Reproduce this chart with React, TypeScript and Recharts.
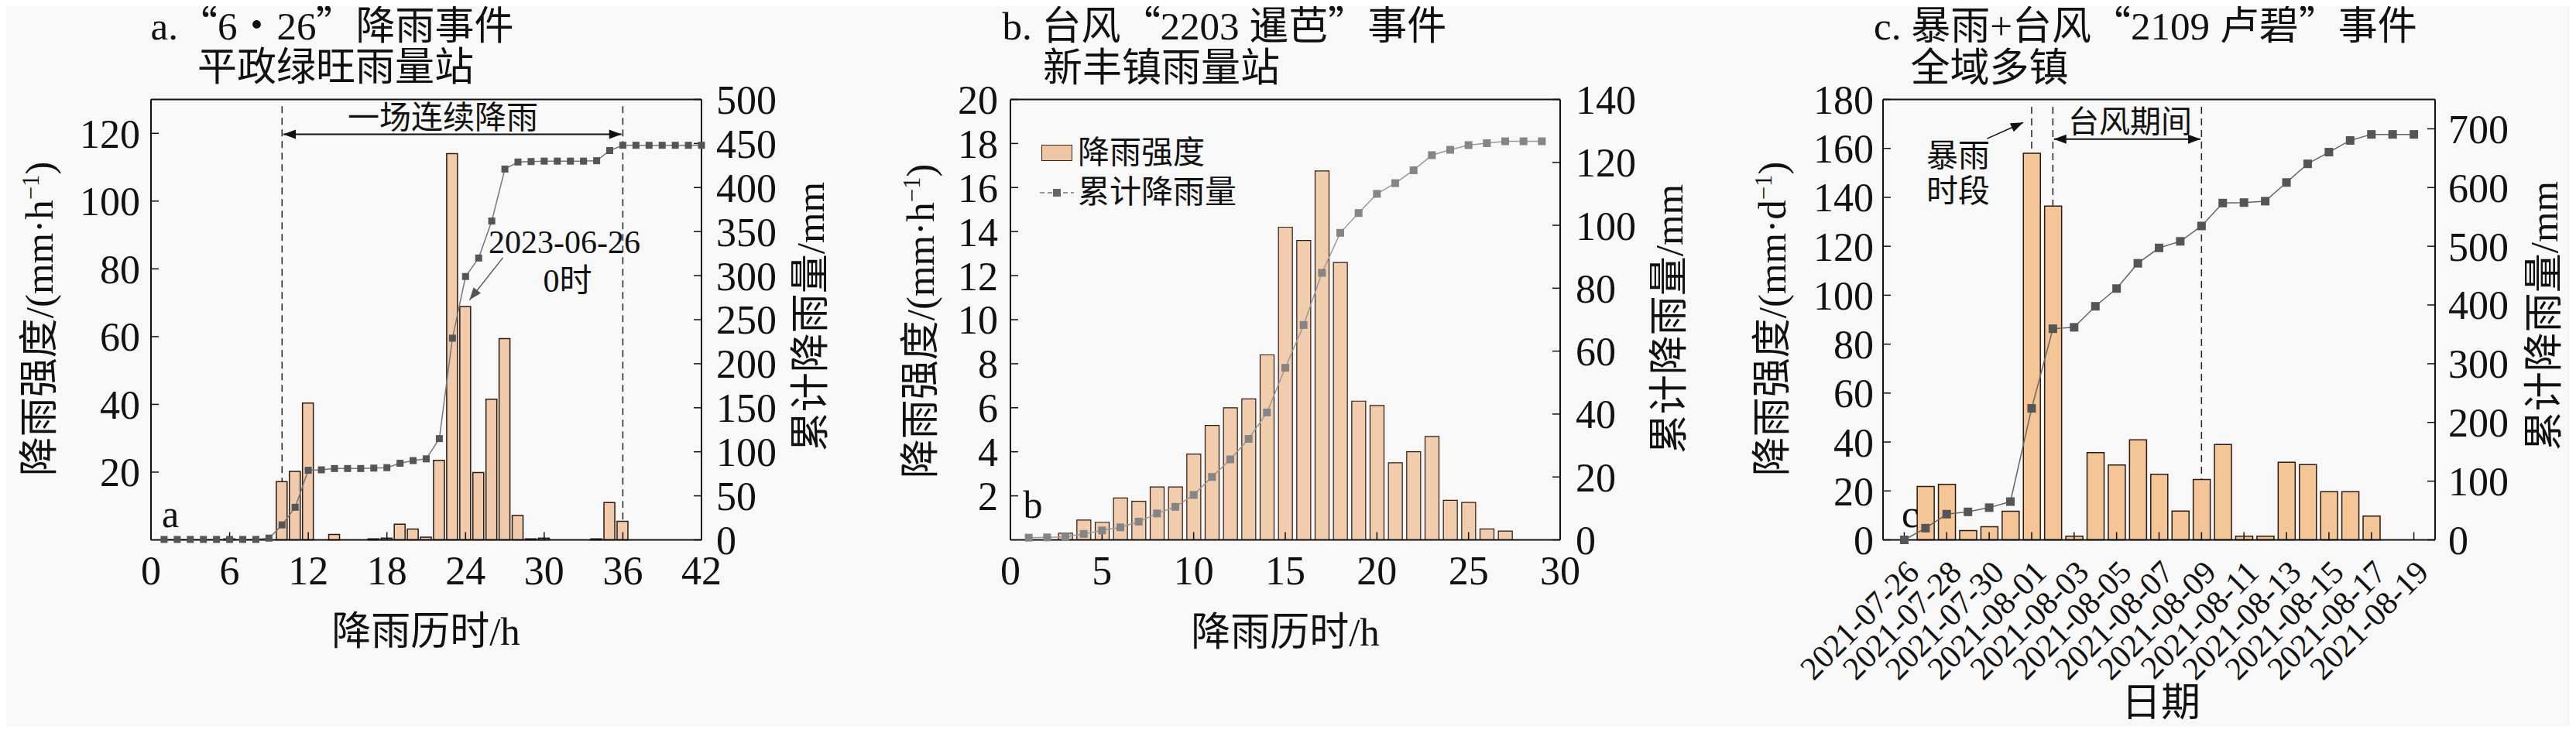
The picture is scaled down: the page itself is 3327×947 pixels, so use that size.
import React from 'react';
import { ComposedChart, Bar, Line, XAxis, YAxis, ReferenceLine } from 'recharts';

// full-width CJK quotes inside serif titles, taken from the local CJK font
const fontCss = `@font-face { font-family: 'CjkPunct'; src: local('Noto Sans CJK SC'), local('Noto Sans CJK SC Regular'), local('NotoSansCJKsc-Regular'); unicode-range: U+201C-201D, U+30FB; }`;
const SERIF = "'CjkPunct', 'Liberation Serif', 'Noto Sans CJK SC', serif";

// a. "6·26" 降雨事件 — hourly, 平政绿旺雨量站
const hoursA = [1, 2, 3, 4, 5, 6, 7, 8, 9, 10, 11, 12, 13, 14, 15, 16, 17, 18, 19, 20, 21, 22, 23, 24, 25, 26, 27, 28, 29, 30, 31, 32, 33, 34, 35, 36, 37, 38, 39, 40, 41, 42];
const rainA = [0, 0, 0, 0, 0, 0.3, 0, 0, 0, 17.2, 20.2, 40.4, 0, 1.6, 0, 0, 0.3, 0.5, 4.6, 3.2, 0.8, 23.5, 114, 68.9, 19.9, 41.5, 59.4, 7.2, 0.3, 0.5, 0, 0, 0, 0.3, 11, 5.5, 0, 0, 0, 0, 0, 0];
const cumA = [0.5, 0.5, 0.5, 0.5, 0.5, 0.5, 0.5, 0.5, 2, 17, 37, 79, 79.5, 81, 81, 81, 81.5, 82, 87, 90, 92, 115, 229, 299, 320, 362, 421, 429, 429.5, 430, 430, 430, 430, 430.5, 442, 448, 448, 448, 448, 448, 448, 448];
const xTicksA = [0, 6, 12, 18, 24, 30, 36, 42];
const leftTicksA = [20, 40, 60, 80, 100, 120];
const rightTicksA = [0, 50, 100, 150, 200, 250, 300, 350, 400, 450, 500];

// b. 台风"2203 暹芭" — hourly, 新丰镇雨量站
const hoursB = [1, 2, 3, 4, 5, 6, 7, 8, 9, 10, 11, 12, 13, 14, 15, 16, 17, 18, 19, 20, 21, 22, 23, 24, 25, 26, 27, 28, 29];
const rainB = [0, 0, 0.3, 0.9, 0.8, 1.9, 1.75, 2.4, 2.4, 3.9, 5.2, 6.0, 6.4, 8.4, 14.2, 13.6, 16.75, 12.6, 6.3, 6.1, 3.5, 4.0, 4.7, 1.8, 1.7, 0.5, 0.4, 0, 0];
const cumB = [0.7, 0.8, 1.0, 1.9, 3.0, 4.0, 5.8, 8.4, 10.5, 14.3, 20.0, 25.6, 32.1, 40.5, 54.7, 68.3, 84.9, 97.6, 103.9, 110.0, 113.4, 117.5, 122.3, 124.0, 125.5, 126.1, 126.7, 126.7, 126.7];
const xTicksB = [0, 5, 10, 15, 20, 25, 30];
const leftTicksB = [2, 4, 6, 8, 10, 12, 14, 16, 18, 20];
const rightTicksB = [0, 20, 40, 60, 80, 100, 120, 140];

// c. 暴雨+台风"2109 卢碧" — daily, 全域多镇
const datesC = [
  '2021-07-26', '2021-07-27', '2021-07-28', '2021-07-29', '2021-07-30', '2021-07-31',
  '2021-08-01', '2021-08-02', '2021-08-03', '2021-08-04', '2021-08-05', '2021-08-06',
  '2021-08-07', '2021-08-08', '2021-08-09', '2021-08-10', '2021-08-11', '2021-08-12',
  '2021-08-13', '2021-08-14', '2021-08-15', '2021-08-16', '2021-08-17', '2021-08-18', '2021-08-19',
];
const rainC = [0, 21.8, 22.7, 3.8, 5.4, 11.7, 158, 136.4, 1.5, 35.7, 30.6, 40.9, 26.8, 11.8, 24.7, 39, 1.5, 1.5, 31.7, 30.8, 19.7, 19.7, 9.7, 0, 0];
const cumC = [0, 20, 43.8, 47.7, 54.9, 65.2, 224, 359.6, 362, 397.8, 428, 471, 497.2, 508.4, 534.6, 573.6, 574.4, 576.8, 608.6, 640.4, 660.3, 680.2, 690.5, 690.5, 690.5];
const xTicksC = [0, 2, 4, 6, 8, 10, 12, 14, 16, 18, 20, 22, 24];
const leftTicksC = [0, 20, 40, 60, 80, 100, 120, 140, 160, 180];
const rightTicksC = [0, 100, 200, 300, 400, 500, 600, 700];

const dataA = hoursA.map((h, i) => ({ h, rain: rainA[i], cum: cumA[i] }));
const dataB = hoursB.map((h, i) => ({ h, rain: rainB[i], cum: cumB[i] }));
const dataC = datesC.map((d, i) => ({ i, date: d, rain: rainC[i], cum: cumC[i] }));

const tickFont = { fontFamily: SERIF, fontSize: 52, fill: '#111' };
const axisLine = { stroke: '#111', strokeWidth: 2 };
const tickLine = { stroke: '#111', strokeWidth: 1.5 };
const dash = { stroke: '#222', strokeWidth: 1.5, strokeDasharray: '9 6' };

const squareDot = (size: number, fill: string) => (p: any) => {
  const { cx, cy, index } = p;
  if (cx == null || cy == null) return <g key={index} />;
  return <rect key={index} x={cx - size / 2} y={cy - size / 2} width={size} height={size} fill={fill} />;
};

const arrowLine = (both: boolean, color = '#111', width = 2) => (p: any) => {
  const { x1, y1, x2, y2 } = p;
  const a = Math.atan2(y2 - y1, x2 - x1);
  const head = (x: number, y: number, ang: number) => {
    const L = 16;
    const W = 6;
    const bx = x - L * Math.cos(ang);
    const by = y - L * Math.sin(ang);
    const nx = -Math.sin(ang) * W;
    const ny = Math.cos(ang) * W;
    return `${x},${y} ${bx + nx},${by + ny} ${bx - nx},${by - ny}`;
  };
  return (
    <g>
      <line x1={x1} y1={y1} x2={x2} y2={y2} stroke={color} strokeWidth={width} />
      <polygon points={head(x2, y2, a)} fill={color} />
      {both && <polygon points={head(x1, y1, a + Math.PI)} fill={color} />}
    </g>
  );
};

const DateTick = (p: any) => {
  const { x, y, payload } = p;
  const ax = x + 11;
  const ay = y + 34;
  return (
    <text x={ax} y={ay} dy="0.35em" textAnchor="end" transform={`rotate(-45 ${ax} ${ay})`}
      fontFamily={SERIF} fontSize={42} fill="#111">
      {datesC[payload.value]}
    </text>
  );
};

type TxtProps = { x: number; y: number; size?: number; left?: boolean; rot?: number; children: React.ReactNode };
const Txt = ({ x, y, size = 51, left = false, rot = 0, children }: TxtProps) => (
  <div style={{
    position: 'absolute', left: x, top: y, fontFamily: SERIF, fontSize: size, lineHeight: 1.2,
    whiteSpace: 'nowrap', color: '#111',
    transform: `translate(${left ? '0' : '-50%'}, -50%) rotate(${rot}deg)`,
  }}>{children}</div>
);
const sup = <sup style={{ fontSize: '0.6em', lineHeight: 0 }}>−1</sup>;

const ChartA = () => (
  <div style={{ position: 'absolute', left: 14.5, top: 0 }}>
    <ComposedChart width={1071} height={947} data={dataA} margin={{ top: 128.5, right: 0, bottom: 0, left: 0 }}>
      <XAxis dataKey="h" type="number" domain={[0, 42]} ticks={xTicksA} interval={0} height={249.5}
        tickSize={-10} tickMargin={31} tick={tickFont} axisLine={axisLine} tickLine={tickLine} />
      <YAxis yAxisId="l" domain={[0, 130]} ticks={leftTicksA} interval={0} width={180}
        tickSize={-10} tickMargin={24} tick={tickFont} axisLine={axisLine} tickLine={tickLine} />
      <YAxis yAxisId="r" orientation="right" domain={[0, 500]} ticks={rightTicksA} interval={0} width={180}
        tickSize={-10} tickMargin={29} tick={tickFont} axisLine={axisLine} tickLine={tickLine} />
      <ReferenceLine yAxisId="l" y={130} stroke="#111" strokeWidth={2} />
      <ReferenceLine yAxisId="l" segment={[{ x: 10, y: 128 }, { x: 10, y: rainA[9] }]} {...dash} />
      <ReferenceLine yAxisId="l" segment={[{ x: 36, y: 128 }, { x: 36, y: rainA[35] }]} {...dash} />
      <ReferenceLine yAxisId="l" segment={[{ x: 10.1, y: 119.7 }, { x: 35.9, y: 119.7 }]} shape={arrowLine(true)} />
      <ReferenceLine yAxisId="l" segment={[{ x: 26.85, y: 83.3 }, { x: 24.3, y: 70.8 }]} shape={arrowLine(false, '#555', 1.5)} />
      <Line yAxisId="r" type="linear" dataKey="cum" stroke="#777" strokeWidth={1.5}
        dot={squareDot(9, '#555')} activeDot={false} isAnimationActive={false} />
      <Bar yAxisId="l" dataKey="rain" barSize={14} fill="#efc5a3" fillOpacity={0.9}
        stroke="#2b1a10" strokeWidth={1.5} isAnimationActive={false} />
    </ComposedChart>
  </div>
);

const ChartB = () => (
  <div style={{ position: 'absolute', left: 1125.4, top: 0 }}>
    <ComposedChart width={1070} height={947} data={dataB} margin={{ top: 128.5, right: 0, bottom: 0, left: 0 }}>
      <XAxis dataKey="h" type="number" domain={[0, 30]} ticks={xTicksB} interval={0} height={249.5}
        tickSize={-10} tickMargin={31} tick={tickFont} axisLine={axisLine} tickLine={tickLine} />
      <YAxis yAxisId="l" domain={[0, 20]} ticks={leftTicksB} interval={0} width={180}
        tickSize={-10} tickMargin={26} tick={tickFont} axisLine={axisLine} tickLine={tickLine} />
      <YAxis yAxisId="r" orientation="right" domain={[0, 140]} ticks={rightTicksB} interval={0} width={180}
        tickSize={-10} tickMargin={30} tick={tickFont} axisLine={axisLine} tickLine={tickLine} />
      <ReferenceLine yAxisId="l" y={20} stroke="#111" strokeWidth={2} />
      <Line yAxisId="r" type="linear" dataKey="cum" stroke="#999" strokeWidth={1.5}
        dot={squareDot(10, '#858585')} activeDot={false} isAnimationActive={false} />
      <Bar yAxisId="l" dataKey="rain" barSize={18} fill="#efc6a4" fillOpacity={0.9}
        stroke="#2b1a10" strokeWidth={1.2} isAnimationActive={false} />
    </ComposedChart>
  </div>
);

const ChartC = () => (
  <div style={{ position: 'absolute', left: 2251.5, top: 0 }}>
    <ComposedChart width={1073} height={947} data={dataC} margin={{ top: 128.5, right: 0, bottom: 0, left: 0 }}>
      <XAxis dataKey="i" type="number" domain={[-1, 25]} ticks={xTicksC} interval={0} height={249.5}
        tickSize={-10} tickMargin={10} tick={<DateTick />} axisLine={axisLine} tickLine={tickLine} />
      <YAxis yAxisId="l" domain={[0, 180]} ticks={leftTicksC} interval={0} width={180}
        tickSize={-10} tickMargin={22} tick={tickFont} axisLine={axisLine} tickLine={tickLine} />
      <YAxis yAxisId="r" orientation="right" domain={[0, 750]} ticks={rightTicksC} interval={0} width={180}
        tickSize={-10} tickMargin={27} tick={tickFont} axisLine={axisLine} tickLine={tickLine} />
      <ReferenceLine yAxisId="l" y={180} stroke="#111" strokeWidth={2} />
      <ReferenceLine yAxisId="l" segment={[{ x: 6, y: 177 }, { x: 6, y: rainC[6] }]} {...dash} />
      <ReferenceLine yAxisId="l" segment={[{ x: 7, y: 177 }, { x: 7, y: rainC[7] }]} {...dash} />
      <ReferenceLine yAxisId="l" segment={[{ x: 14, y: 177 }, { x: 14, y: rainC[14] }]} {...dash} />
      <ReferenceLine yAxisId="l" segment={[{ x: 7.05, y: 163.8 }, { x: 13.95, y: 163.8 }]} shape={arrowLine(true)} />
      <ReferenceLine yAxisId="l" segment={[{ x: 3.9, y: 164 }, { x: 5.6, y: 170.6 }]} shape={arrowLine(false, '#111', 1.5)} />
      <Line yAxisId="r" type="linear" dataKey="cum" stroke="#666" strokeWidth={1.5}
        dot={squareDot(11, '#555')} activeDot={false} isAnimationActive={false} />
      <Bar yAxisId="l" dataKey="rain" barSize={22} fill="#f3c08e" fillOpacity={0.92}
        stroke="#2b1a10" strokeWidth={1.5} isAnimationActive={false} />
    </ComposedChart>
  </div>
);

export default function App() {
  return (
    <div style={{ position: 'relative', width: 3327, height: 947, margin: -8, background: '#f8f8f8', overflow: 'hidden' }}>
      <style>{fontCss}</style>
      <ChartA />
      <ChartB />
      <ChartC />

      {/* titles */}
      <Txt x={194.5} y={35} left>a.“6・26”降雨事件</Txt>
      <Txt x={255} y={88} left>平政绿旺雨量站</Txt>
      <Txt x={1294.5} y={35} left>b. 台风“2203 暹芭”事件</Txt>
      <Txt x={1347} y={89} left>新丰镇雨量站</Txt>
      <Txt x={2420} y={35} left>c. 暴雨+台风“2109 卢碧”事件</Txt>
      <Txt x={2467.5} y={89} left>全域多镇</Txt>

      {/* axis titles */}
      <Txt x={52} y={412} rot={-90}>降雨强度/(mm·h{sup})</Txt>
      <Txt x={1048} y={409} rot={-90}>累计降雨量/mm</Txt>
      <Txt x={550} y={817}>降雨历时/h</Txt>
      <Txt x={1190} y={415} rot={-90}>降雨强度/(mm·h{sup})</Txt>
      <Txt x={2157} y={412} rot={-90}>累计降雨量/mm</Txt>
      <Txt x={1660} y={818}>降雨历时/h</Txt>
      <Txt x={2290} y={412} rot={-90}>降雨强度/(mm·d{sup})</Txt>
      <Txt x={3287} y={408} rot={-90}>累计降雨量/mm</Txt>
      <Txt x={2791} y={909}>日期</Txt>

      {/* panel letters */}
      <Txt x={220} y={664} size={50}>a</Txt>
      <Txt x={1334} y={652} size={50}>b</Txt>
      <Txt x={2467} y={664} size={50}>c</Txt>

      {/* annotations */}
      <Txt x={572} y={153} size={41}>一场连续降雨</Txt>
      <Txt x={729} y={313} size={42}>2023-06-26</Txt>
      <Txt x={733} y={363} size={42}>0时</Txt>
      <Txt x={2751} y={158} size={40}>台风期间</Txt>
      <Txt x={2529} y={202} size={41}>暴雨</Txt>
      <Txt x={2529} y={248} size={41}>时段</Txt>

      {/* legend of panel b */}
      <div style={{ position: 'absolute', left: 1345, top: 187, width: 40, height: 21, background: '#efc6a4', border: '1.5px solid #3a2a1a', boxSizing: 'border-box' }} />
      <Txt x={1392} y={198} size={41} left>降雨强度</Txt>
      <svg style={{ position: 'absolute', left: 1343, top: 239 }} width={44} height={20}>
        <line x1={0} y1={10} x2={44} y2={10} stroke="#777" strokeWidth={1.5} strokeDasharray="6 4" />
        <rect x={17} y={5} width={10} height={10} fill="#666" />
      </svg>
      <Txt x={1392} y={249} size={41} left>累计降雨量</Txt>
    </div>
  );
}
